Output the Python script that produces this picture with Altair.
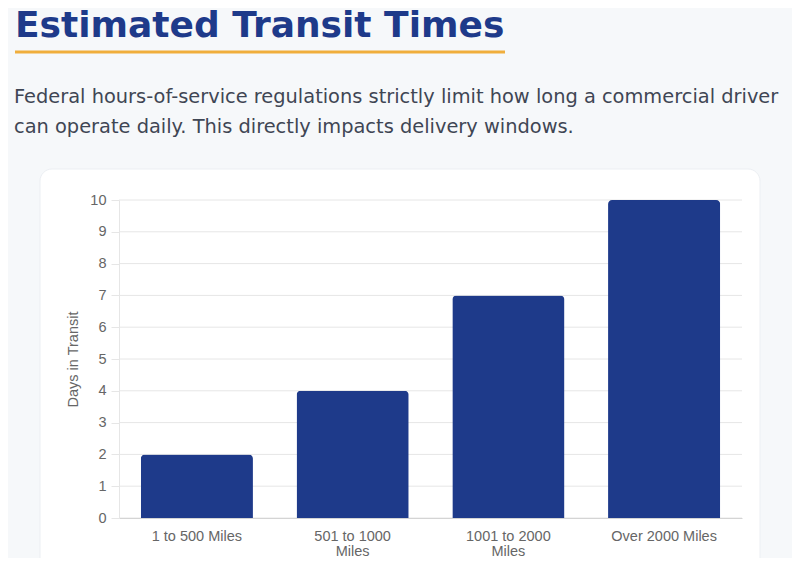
import altair as alt
import pandas as pd

# ---- data ----
categories = ["1 to 500 Miles", "501 to 1000 Miles", "1001 to 2000 Miles", "Over 2000 Miles"]
days = [2, 4, 7, 10]
y_ticks = [0, 1, 2, 3, 4, 5, 6, 7, 8, 9, 10]
title_text = "Estimated Transit Times"
subtitle_lines = [
    "Federal hours-of-service regulations strictly limit how long a commercial driver",
    "can operate daily. This directly impacts delivery windows.",
]
y_title = "Days in Transit"

BLUE = "#1e3a8a"
BG = "#f6f8fa"
AXIS_FONT = "Liberation Sans"
TEXT_FONT = "DejaVu Sans"
GRID = "#e6e6e6"
LABEL = "#666666"

df = pd.DataFrame({"range": categories, "days": days})
grid_df = pd.DataFrame({"days": y_ticks})
one = pd.DataFrame({"k": [0]})

y_axis = alt.Axis(
    title=y_title, values=y_ticks, grid=False, zindex=1,
    labelFont=AXIS_FONT, labelFontSize=14.5, labelColor=LABEL,
    labelOverlap=False,
    labelPadding=5, tickSize=8, tickColor=GRID,
    domainColor=GRID,
    titleFont=AXIS_FONT, titleFontSize=14.5, titleColor=LABEL,
    titleFontWeight="normal", titleX=-46, titleY=159,
    titleAngle=-90, titleAlign="center", titleBaseline="middle",
)
y_scale = alt.Scale(domain=[0, 10], nice=False)

# card background (decoration)
card = alt.Chart(one).mark_rect(
    fill="white", stroke="#eceff3", strokeWidth=1, cornerRadius=12
).encode(x=alt.value(-79), x2=alt.value(641), y=alt.value(-31), y2=alt.value(420))

underline = alt.Chart(one).mark_rule(color="#f0ae3c", strokeWidth=3).encode(
    x=alt.value(-104), x2=alt.value(386), y=alt.value(-148)
)

title = alt.Chart(pd.DataFrame({"t": [title_text]})).mark_text(
    font=TEXT_FONT, fontSize=36, fontWeight="bold", color=BLUE,
    align="left", baseline="alphabetic"
).encode(text="t:N", x=alt.value(-104), y=alt.value(-163))

sub1 = alt.Chart(pd.DataFrame({"t": [subtitle_lines[0]]})).mark_text(
    font=TEXT_FONT, fontSize=19.4, color="#3f4654", align="left", baseline="alphabetic"
).encode(text="t:N", x=alt.value(-105), y=alt.value(-97))

sub2 = alt.Chart(pd.DataFrame({"t": [subtitle_lines[1]]})).mark_text(
    font=TEXT_FONT, fontSize=19.4, color="#3f4654", align="left", baseline="alphabetic"
).encode(text="t:N", x=alt.value(-105), y=alt.value(-67))

gridlines = alt.Chart(grid_df).mark_rule(color=GRID, strokeWidth=1).encode(
    y=alt.Y("days:Q", scale=y_scale, axis=y_axis)
)

bars = alt.Chart(df).mark_bar(
    color=BLUE, cornerRadiusTopLeft=4, cornerRadiusTopRight=4
).encode(
    x=alt.X(
        "range:N", sort=categories,
        scale=alt.Scale(paddingInner=0.28, paddingOuter=0.14),
        axis=alt.Axis(
            title=None, labelAngle=0, ticks=False, labelPadding=11,
            labelFont=AXIS_FONT, labelFontSize=14.5, labelColor=LABEL,
            labelLineHeight=15, labelBaseline="top", labelOverlap=False,
            domainColor="#d4d4d4", grid=False, zindex=1,
            labelExpr="length(datum.label) > 15 ? [replace(datum.label, ' Miles', ''), 'Miles'] : datum.label",
        ),
    ),
    y=alt.Y("days:Q", scale=y_scale, axis=y_axis),
)

chart = alt.layer(card, underline, title, sub1, sub2, gridlines, bars).properties(
    width=623, height=318,
    autosize=alt.AutoSizeParams(type="none"),
    padding={"left": 111, "top": 192, "right": 50, "bottom": 40},
    background=BG,
).configure_view(stroke=None)

chart.save("out.html", embed_options={"renderer": "svg", "actions": False})
